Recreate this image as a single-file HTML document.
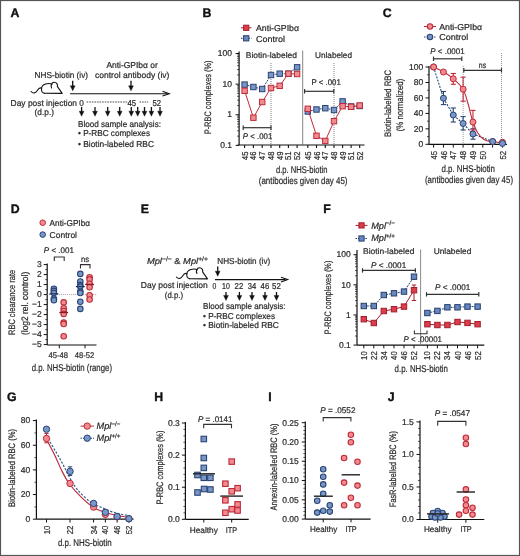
<!DOCTYPE html>
<html><head><meta charset="utf-8"><style>
html,body{margin:0;padding:0;background:#fff;}
svg{display:block;will-change:transform;}
text{font-family:"Liberation Sans", sans-serif;stroke:#2c2c2c;stroke-width:0.22px;text-rendering:geometricPrecision;}
</style></head><body>
<svg width="520" height="556" viewBox="0 0 520 556" font-family='"Liberation Sans", sans-serif' fill="#2c2c2c">
<rect x="0" y="0" width="520" height="556" fill="#fff"/>
<text x="10.50" y="16.80" font-size="12.3" font-weight="bold" fill="#111" style="stroke:#111;stroke-width:0.35px">A</text>
<text x="34.60" y="78.10" font-size="8.6" textLength="53.40" lengthAdjust="spacingAndGlyphs" >NHS-biotin (iv)</text>
<text x="106.40" y="68.10" font-size="8.6" textLength="51.40" lengthAdjust="spacingAndGlyphs" >Anti-GPIbα or</text>
<text x="95.00" y="77.80" font-size="8.6" textLength="74.40" lengthAdjust="spacingAndGlyphs" >control antibody (iv)</text>
<g transform="translate(0,0) scale(1.0)" fill="none" stroke="#111" stroke-width="1.1" stroke-linecap="round" stroke-linejoin="round">
<path d="M31.1,91.5 C33,93.8 35.8,93.2 37.3,90.6 C38.8,88 40,87.4 41.6,88.2"/>
<path d="M44.2,93.2 C40.5,92.4 40.2,85.6 45.5,84 C48,83.2 50.5,83.4 52,84.3"/>
<path d="M51.6,87.9 C50.4,85.8 51.5,82.3 54.2,82.3 C56.6,82.3 58,84.5 57.3,86.4 L62.2,93.4 L44.2,93.2"/>
</g>
<line x1="72.70" y1="80.80" x2="72.70" y2="86.80" stroke="#111" stroke-width="1.3"/>
<path d="M70.30,85.80 L72.70,90.80 L75.10,85.80 Z" fill="#111" stroke="#111" stroke-width="0.4" stroke-linejoin="round"/>
<line x1="131.00" y1="80.80" x2="131.00" y2="86.80" stroke="#111" stroke-width="1.3"/>
<path d="M128.60,85.80 L131.00,90.80 L133.40,85.80 Z" fill="#111" stroke="#111" stroke-width="0.4" stroke-linejoin="round"/>
<line x1="70.00" y1="93.70" x2="167.00" y2="93.70" stroke="#111" stroke-width="1.1"/>
<path d="M162.5,91.3 L169.3,93.7 L162.5,96.1" fill="none" stroke="#111" stroke-width="1.1"/>
<text x="10.60" y="105.80" font-size="8.6" textLength="66.40" lengthAdjust="spacingAndGlyphs" >Day post injection</text>
<text x="34.60" y="114.80" font-size="8.6" textLength="19.40" lengthAdjust="spacingAndGlyphs" >(d.p.)</text>
<text x="79.30" y="105.50" font-size="8.6" textLength="4.60" lengthAdjust="spacingAndGlyphs" >0</text>
<line x1="86.50" y1="102.00" x2="127.50" y2="102.00" stroke="#555" stroke-width="1.1" stroke-dasharray="1.7,0.9"/>
<text x="127.50" y="105.50" font-size="8.6" textLength="8.60" lengthAdjust="spacingAndGlyphs" >45</text>
<line x1="139.40" y1="102.00" x2="148.30" y2="102.00" stroke="#555" stroke-width="1.1" stroke-dasharray="1.7,0.9"/>
<text x="152.50" y="105.50" font-size="8.6" textLength="8.60" lengthAdjust="spacingAndGlyphs" >52</text>
<line x1="81.60" y1="107.00" x2="81.60" y2="112.20" stroke="#111" stroke-width="1.3"/>
<path d="M79.20,111.20 L81.60,116.20 L84.00,111.20 Z" fill="#111" stroke="#111" stroke-width="0.4" stroke-linejoin="round"/>
<line x1="95.00" y1="107.00" x2="95.00" y2="112.20" stroke="#111" stroke-width="1.3"/>
<path d="M92.60,111.20 L95.00,116.20 L97.40,111.20 Z" fill="#111" stroke="#111" stroke-width="0.4" stroke-linejoin="round"/>
<line x1="107.70" y1="107.00" x2="107.70" y2="112.20" stroke="#111" stroke-width="1.3"/>
<path d="M105.30,111.20 L107.70,116.20 L110.10,111.20 Z" fill="#111" stroke="#111" stroke-width="0.4" stroke-linejoin="round"/>
<line x1="119.70" y1="107.00" x2="119.70" y2="112.20" stroke="#111" stroke-width="1.3"/>
<path d="M117.30,111.20 L119.70,116.20 L122.10,111.20 Z" fill="#111" stroke="#111" stroke-width="0.4" stroke-linejoin="round"/>
<line x1="131.30" y1="107.00" x2="131.30" y2="112.20" stroke="#111" stroke-width="1.3"/>
<path d="M128.90,111.20 L131.30,116.20 L133.70,111.20 Z" fill="#111" stroke="#111" stroke-width="0.4" stroke-linejoin="round"/>
<line x1="137.70" y1="107.00" x2="137.70" y2="112.20" stroke="#111" stroke-width="1.3"/>
<path d="M135.30,111.20 L137.70,116.20 L140.10,111.20 Z" fill="#111" stroke="#111" stroke-width="0.4" stroke-linejoin="round"/>
<line x1="144.50" y1="107.00" x2="144.50" y2="112.20" stroke="#111" stroke-width="1.3"/>
<path d="M142.10,111.20 L144.50,116.20 L146.90,111.20 Z" fill="#111" stroke="#111" stroke-width="0.4" stroke-linejoin="round"/>
<line x1="151.40" y1="107.00" x2="151.40" y2="112.20" stroke="#111" stroke-width="1.3"/>
<path d="M149.00,111.20 L151.40,116.20 L153.80,111.20 Z" fill="#111" stroke="#111" stroke-width="0.4" stroke-linejoin="round"/>
<line x1="160.00" y1="107.00" x2="160.00" y2="112.20" stroke="#111" stroke-width="1.3"/>
<path d="M157.60,111.20 L160.00,116.20 L162.40,111.20 Z" fill="#111" stroke="#111" stroke-width="0.4" stroke-linejoin="round"/>
<text x="78.00" y="126.90" font-size="8.6" textLength="83.00" lengthAdjust="spacingAndGlyphs" >Blood sample analysis:</text>
<text x="78.00" y="136.40" font-size="8.6" textLength="72.00" lengthAdjust="spacingAndGlyphs" >• P-RBC complexes</text>
<text x="78.00" y="146.50" font-size="8.6" textLength="76.00" lengthAdjust="spacingAndGlyphs" >• Biotin-labeled RBC</text>
<text x="202.50" y="16.80" font-size="12.3" font-weight="bold" fill="#111" style="stroke:#111;stroke-width:0.35px">B</text>
<line x1="241.00" y1="27.80" x2="251.50" y2="27.80" stroke="#a31f2d" stroke-width="1"/>
<rect x="243.60" y="25.20" width="5.2" height="5.2" fill="#dc3d4b" stroke="#a31f2d" stroke-width="1"/>
<line x1="241.00" y1="38.30" x2="251.50" y2="38.30" stroke="#263f6c" stroke-width="1" stroke-dasharray="1.5,1"/>
<rect x="243.60" y="35.70" width="5.2" height="5.2" fill="#6787bf" stroke="#263f6c" stroke-width="1"/>
<text x="256.00" y="31.30" font-size="8.6" textLength="43.00" lengthAdjust="spacingAndGlyphs" >Anti-GPIbα</text>
<text x="256.00" y="41.80" font-size="8.6" textLength="29.00" lengthAdjust="spacingAndGlyphs" >Control</text>
<line x1="239.10" y1="51.50" x2="239.10" y2="145.00" stroke="#111" stroke-width="1.2"/>
<line x1="237.60" y1="145.00" x2="364.50" y2="145.00" stroke="#111" stroke-width="1.2"/>
<line x1="237.10" y1="136.18" x2="239.10" y2="136.18" stroke="#111" stroke-width="0.7"/>
<line x1="237.10" y1="130.79" x2="239.10" y2="130.79" stroke="#111" stroke-width="0.7"/>
<line x1="237.10" y1="126.96" x2="239.10" y2="126.96" stroke="#111" stroke-width="0.7"/>
<line x1="237.10" y1="123.99" x2="239.10" y2="123.99" stroke="#111" stroke-width="0.7"/>
<line x1="237.10" y1="121.57" x2="239.10" y2="121.57" stroke="#111" stroke-width="0.7"/>
<line x1="237.10" y1="119.51" x2="239.10" y2="119.51" stroke="#111" stroke-width="0.7"/>
<line x1="237.10" y1="117.74" x2="239.10" y2="117.74" stroke="#111" stroke-width="0.7"/>
<line x1="237.10" y1="116.17" x2="239.10" y2="116.17" stroke="#111" stroke-width="0.7"/>
<line x1="237.10" y1="105.55" x2="239.10" y2="105.55" stroke="#111" stroke-width="0.7"/>
<line x1="237.10" y1="100.16" x2="239.10" y2="100.16" stroke="#111" stroke-width="0.7"/>
<line x1="237.10" y1="96.33" x2="239.10" y2="96.33" stroke="#111" stroke-width="0.7"/>
<line x1="237.10" y1="93.36" x2="239.10" y2="93.36" stroke="#111" stroke-width="0.7"/>
<line x1="237.10" y1="90.94" x2="239.10" y2="90.94" stroke="#111" stroke-width="0.7"/>
<line x1="237.10" y1="88.88" x2="239.10" y2="88.88" stroke="#111" stroke-width="0.7"/>
<line x1="237.10" y1="87.11" x2="239.10" y2="87.11" stroke="#111" stroke-width="0.7"/>
<line x1="237.10" y1="85.54" x2="239.10" y2="85.54" stroke="#111" stroke-width="0.7"/>
<line x1="237.10" y1="74.92" x2="239.10" y2="74.92" stroke="#111" stroke-width="0.7"/>
<line x1="237.10" y1="69.53" x2="239.10" y2="69.53" stroke="#111" stroke-width="0.7"/>
<line x1="237.10" y1="65.70" x2="239.10" y2="65.70" stroke="#111" stroke-width="0.7"/>
<line x1="237.10" y1="62.73" x2="239.10" y2="62.73" stroke="#111" stroke-width="0.7"/>
<line x1="237.10" y1="60.31" x2="239.10" y2="60.31" stroke="#111" stroke-width="0.7"/>
<line x1="237.10" y1="58.25" x2="239.10" y2="58.25" stroke="#111" stroke-width="0.7"/>
<line x1="237.10" y1="56.48" x2="239.10" y2="56.48" stroke="#111" stroke-width="0.7"/>
<line x1="237.10" y1="54.91" x2="239.10" y2="54.91" stroke="#111" stroke-width="0.7"/>
<line x1="235.60" y1="53.51" x2="239.10" y2="53.51" stroke="#111" stroke-width="1"/>
<text x="232.00" y="56.21" font-size="8.5" text-anchor="end" >100</text>
<line x1="235.60" y1="84.14" x2="239.10" y2="84.14" stroke="#111" stroke-width="1"/>
<text x="232.00" y="86.84" font-size="8.5" text-anchor="end" >10</text>
<line x1="235.60" y1="114.77" x2="239.10" y2="114.77" stroke="#111" stroke-width="1"/>
<text x="232.00" y="117.47" font-size="8.5" text-anchor="end" >1</text>
<line x1="235.60" y1="145.40" x2="239.10" y2="145.40" stroke="#111" stroke-width="1"/>
<text x="232.00" y="148.10" font-size="8.5" text-anchor="end" >0.1</text>
<text x="211.00" y="97.30" font-size="9.4" text-anchor="middle" textLength="73.50" lengthAdjust="spacingAndGlyphs" transform="rotate(-90 211.00 97.30)" >P-RBC complexes (%)</text>
<line x1="244.60" y1="145.00" x2="244.60" y2="148.00" stroke="#111" stroke-width="1.1"/>
<text x="247.70" y="151.60" font-size="8.6" text-anchor="end" textLength="8.40" lengthAdjust="spacingAndGlyphs" transform="rotate(-90 247.70 151.60)" >45</text>
<line x1="253.40" y1="145.00" x2="253.40" y2="148.00" stroke="#111" stroke-width="1.1"/>
<text x="256.50" y="151.60" font-size="8.6" text-anchor="end" textLength="8.40" lengthAdjust="spacingAndGlyphs" transform="rotate(-90 256.50 151.60)" >46</text>
<line x1="262.20" y1="145.00" x2="262.20" y2="148.00" stroke="#111" stroke-width="1.1"/>
<text x="265.30" y="151.60" font-size="8.6" text-anchor="end" textLength="8.40" lengthAdjust="spacingAndGlyphs" transform="rotate(-90 265.30 151.60)" >47</text>
<line x1="271.00" y1="145.00" x2="271.00" y2="148.00" stroke="#111" stroke-width="1.1"/>
<text x="274.10" y="151.60" font-size="8.6" text-anchor="end" textLength="8.40" lengthAdjust="spacingAndGlyphs" transform="rotate(-90 274.10 151.60)" >48</text>
<line x1="279.70" y1="145.00" x2="279.70" y2="148.00" stroke="#111" stroke-width="1.1"/>
<text x="282.80" y="151.60" font-size="8.6" text-anchor="end" textLength="8.40" lengthAdjust="spacingAndGlyphs" transform="rotate(-90 282.80 151.60)" >49</text>
<line x1="288.40" y1="145.00" x2="288.40" y2="148.00" stroke="#111" stroke-width="1.1"/>
<text x="291.50" y="151.60" font-size="8.6" text-anchor="end" textLength="8.40" lengthAdjust="spacingAndGlyphs" transform="rotate(-90 291.50 151.60)" >51</text>
<line x1="297.10" y1="145.00" x2="297.10" y2="148.00" stroke="#111" stroke-width="1.1"/>
<text x="300.20" y="151.60" font-size="8.6" text-anchor="end" textLength="8.40" lengthAdjust="spacingAndGlyphs" transform="rotate(-90 300.20 151.60)" >52</text>
<line x1="307.80" y1="145.00" x2="307.80" y2="148.00" stroke="#111" stroke-width="1.1"/>
<text x="310.90" y="151.60" font-size="8.6" text-anchor="end" textLength="8.40" lengthAdjust="spacingAndGlyphs" transform="rotate(-90 310.90 151.60)" >45</text>
<line x1="316.50" y1="145.00" x2="316.50" y2="148.00" stroke="#111" stroke-width="1.1"/>
<text x="319.60" y="151.60" font-size="8.6" text-anchor="end" textLength="8.40" lengthAdjust="spacingAndGlyphs" transform="rotate(-90 319.60 151.60)" >46</text>
<line x1="325.30" y1="145.00" x2="325.30" y2="148.00" stroke="#111" stroke-width="1.1"/>
<text x="328.40" y="151.60" font-size="8.6" text-anchor="end" textLength="8.40" lengthAdjust="spacingAndGlyphs" transform="rotate(-90 328.40 151.60)" >47</text>
<line x1="334.00" y1="145.00" x2="334.00" y2="148.00" stroke="#111" stroke-width="1.1"/>
<text x="337.10" y="151.60" font-size="8.6" text-anchor="end" textLength="8.40" lengthAdjust="spacingAndGlyphs" transform="rotate(-90 337.10 151.60)" >48</text>
<line x1="342.60" y1="145.00" x2="342.60" y2="148.00" stroke="#111" stroke-width="1.1"/>
<text x="345.70" y="151.60" font-size="8.6" text-anchor="end" textLength="8.40" lengthAdjust="spacingAndGlyphs" transform="rotate(-90 345.70 151.60)" >49</text>
<line x1="351.10" y1="145.00" x2="351.10" y2="148.00" stroke="#111" stroke-width="1.1"/>
<text x="354.20" y="151.60" font-size="8.6" text-anchor="end" textLength="8.40" lengthAdjust="spacingAndGlyphs" transform="rotate(-90 354.20 151.60)" >51</text>
<line x1="359.70" y1="145.00" x2="359.70" y2="148.00" stroke="#111" stroke-width="1.1"/>
<text x="362.80" y="151.60" font-size="8.6" text-anchor="end" textLength="8.40" lengthAdjust="spacingAndGlyphs" transform="rotate(-90 362.80 151.60)" >52</text>
<line x1="302.70" y1="50.50" x2="302.70" y2="145.40" stroke="#777" stroke-width="0.9"/>
<text x="245.80" y="57.70" font-size="8.2" textLength="51.20" lengthAdjust="spacingAndGlyphs" >Biotin-labeled</text>
<text x="315.00" y="57.70" font-size="8.2" textLength="37.00" lengthAdjust="spacingAndGlyphs" >Unlabeled</text>
<line x1="271.00" y1="63.00" x2="271.00" y2="145.40" stroke="#666" stroke-width="0.8" stroke-dasharray="1,1"/>
<line x1="334.00" y1="63.00" x2="334.00" y2="145.40" stroke="#666" stroke-width="0.8" stroke-dasharray="1,1"/>
<line x1="243.20" y1="127.70" x2="271.00" y2="127.70" stroke="#333" stroke-width="1.2"/>
<line x1="243.20" y1="125.50" x2="243.20" y2="129.90" stroke="#333" stroke-width="1.2"/>
<line x1="271.00" y1="125.50" x2="271.00" y2="129.90" stroke="#333" stroke-width="1.2"/>
<text x="242.80" y="138.80" font-size="8.2" textLength="29.50" lengthAdjust="spacingAndGlyphs" ><tspan font-style="italic">P</tspan> &lt; .001</text>
<line x1="304.60" y1="91.30" x2="333.80" y2="91.30" stroke="#333" stroke-width="1.2"/>
<line x1="304.60" y1="89.10" x2="304.60" y2="93.50" stroke="#333" stroke-width="1.2"/>
<line x1="333.80" y1="89.10" x2="333.80" y2="93.50" stroke="#333" stroke-width="1.2"/>
<text x="311.50" y="85.20" font-size="8.2" textLength="29.30" lengthAdjust="spacingAndGlyphs" >P &lt; .001</text>
<polyline points="244.60,84.60 253.40,87.00 262.20,89.00 271.00,75.00 279.70,73.70 288.40,73.70 297.10,67.30" fill="none" stroke="#2a4474" stroke-width="1" stroke-dasharray="2,1"/>
<rect x="241.90" y="81.90" width="5.4" height="5.4" fill="#7896c8" stroke="#2a4474" stroke-width="1"/>
<rect x="250.70" y="84.30" width="5.4" height="5.4" fill="#7896c8" stroke="#2a4474" stroke-width="1"/>
<rect x="259.50" y="86.30" width="5.4" height="5.4" fill="#7896c8" stroke="#2a4474" stroke-width="1"/>
<rect x="268.30" y="72.30" width="5.4" height="5.4" fill="#7896c8" stroke="#2a4474" stroke-width="1"/>
<rect x="277.00" y="71.00" width="5.4" height="5.4" fill="#7896c8" stroke="#2a4474" stroke-width="1"/>
<rect x="285.70" y="71.00" width="5.4" height="5.4" fill="#7896c8" stroke="#2a4474" stroke-width="1"/>
<rect x="294.40" y="64.60" width="5.4" height="5.4" fill="#7896c8" stroke="#2a4474" stroke-width="1"/>
<polyline points="244.60,90.80 253.40,117.70 262.20,102.00 271.00,88.00 279.70,85.80 288.40,73.70 297.10,74.00" fill="none" stroke="#bd2b3a" stroke-width="1"/>
<rect x="241.90" y="88.10" width="5.4" height="5.4" fill="#f28a8e" stroke="#bd2b3a" stroke-width="1"/>
<rect x="250.70" y="115.00" width="5.4" height="5.4" fill="#f28a8e" stroke="#bd2b3a" stroke-width="1"/>
<rect x="259.50" y="99.30" width="5.4" height="5.4" fill="#f28a8e" stroke="#bd2b3a" stroke-width="1"/>
<rect x="268.30" y="85.30" width="5.4" height="5.4" fill="#f28a8e" stroke="#bd2b3a" stroke-width="1"/>
<rect x="277.00" y="83.10" width="5.4" height="5.4" fill="#f28a8e" stroke="#bd2b3a" stroke-width="1"/>
<rect x="285.70" y="71.00" width="5.4" height="5.4" fill="#f28a8e" stroke="#bd2b3a" stroke-width="1"/>
<rect x="294.40" y="71.30" width="5.4" height="5.4" fill="#f28a8e" stroke="#bd2b3a" stroke-width="1"/>
<polyline points="307.80,111.50 316.50,109.50 325.30,108.20 334.00,110.00 342.60,101.40 351.10,106.50 359.70,106.00" fill="none" stroke="#2a4474" stroke-width="1" stroke-dasharray="2,1"/>
<rect x="305.10" y="108.80" width="5.4" height="5.4" fill="#7896c8" stroke="#2a4474" stroke-width="1"/>
<rect x="313.80" y="106.80" width="5.4" height="5.4" fill="#7896c8" stroke="#2a4474" stroke-width="1"/>
<rect x="322.60" y="105.50" width="5.4" height="5.4" fill="#7896c8" stroke="#2a4474" stroke-width="1"/>
<rect x="331.30" y="107.30" width="5.4" height="5.4" fill="#7896c8" stroke="#2a4474" stroke-width="1"/>
<rect x="339.90" y="98.70" width="5.4" height="5.4" fill="#7896c8" stroke="#2a4474" stroke-width="1"/>
<rect x="348.40" y="103.80" width="5.4" height="5.4" fill="#7896c8" stroke="#2a4474" stroke-width="1"/>
<rect x="357.00" y="103.30" width="5.4" height="5.4" fill="#7896c8" stroke="#2a4474" stroke-width="1"/>
<polyline points="307.80,108.80 316.50,135.80 325.30,140.90 334.00,121.20 342.60,106.20 351.10,106.80 359.70,105.50" fill="none" stroke="#bd2b3a" stroke-width="1"/>
<rect x="305.10" y="106.10" width="5.4" height="5.4" fill="#f28a8e" stroke="#bd2b3a" stroke-width="1"/>
<rect x="313.80" y="133.10" width="5.4" height="5.4" fill="#f28a8e" stroke="#bd2b3a" stroke-width="1"/>
<rect x="322.60" y="138.20" width="5.4" height="5.4" fill="#f28a8e" stroke="#bd2b3a" stroke-width="1"/>
<rect x="331.30" y="118.50" width="5.4" height="5.4" fill="#f28a8e" stroke="#bd2b3a" stroke-width="1"/>
<rect x="339.90" y="103.50" width="5.4" height="5.4" fill="#f28a8e" stroke="#bd2b3a" stroke-width="1"/>
<rect x="348.40" y="104.10" width="5.4" height="5.4" fill="#f28a8e" stroke="#bd2b3a" stroke-width="1"/>
<rect x="357.00" y="102.80" width="5.4" height="5.4" fill="#f28a8e" stroke="#bd2b3a" stroke-width="1"/>
<text x="276.00" y="172.50" font-size="9.8" textLength="51.50" lengthAdjust="spacingAndGlyphs" >d.p. NHS-biotin</text>
<text x="258.80" y="183.80" font-size="9.8" textLength="88.70" lengthAdjust="spacingAndGlyphs" >(antibodies given day 45)</text>
<text x="382.80" y="16.80" font-size="12.3" font-weight="bold" fill="#111" style="stroke:#111;stroke-width:0.35px">C</text>
<line x1="424.00" y1="26.50" x2="436.00" y2="26.50" stroke="#bd2b3a" stroke-width="1"/>
<circle cx="430.00" cy="26.50" r="2.7" fill="#f28a8e" stroke="#bd2b3a" stroke-width="1.1"/>
<line x1="424.00" y1="37.00" x2="436.00" y2="37.00" stroke="#2a4474" stroke-width="1" stroke-dasharray="1.5,1"/>
<circle cx="430.00" cy="37.00" r="2.7" fill="#7896c8" stroke="#2a4474" stroke-width="1.1"/>
<text x="439.20" y="29.70" font-size="8.6" textLength="43.00" lengthAdjust="spacingAndGlyphs" >Anti-GPIbα</text>
<text x="439.20" y="39.90" font-size="8.6" textLength="29.00" lengthAdjust="spacingAndGlyphs" >Control</text>
<line x1="429.00" y1="66.00" x2="429.00" y2="144.30" stroke="#111" stroke-width="1.2"/>
<line x1="429.00" y1="144.30" x2="507.00" y2="144.30" stroke="#111" stroke-width="1.2"/>
<line x1="425.50" y1="144.30" x2="429.00" y2="144.30" stroke="#111" stroke-width="1"/>
<text x="423.20" y="147.10" font-size="8.5" text-anchor="end" >0</text>
<line x1="427.00" y1="136.58" x2="429.00" y2="136.58" stroke="#111" stroke-width="0.7"/>
<line x1="425.50" y1="128.85" x2="429.00" y2="128.85" stroke="#111" stroke-width="1"/>
<text x="423.20" y="131.65" font-size="8.5" text-anchor="end" >20</text>
<line x1="427.00" y1="121.13" x2="429.00" y2="121.13" stroke="#111" stroke-width="0.7"/>
<line x1="425.50" y1="113.40" x2="429.00" y2="113.40" stroke="#111" stroke-width="1"/>
<text x="423.20" y="116.20" font-size="8.5" text-anchor="end" >40</text>
<line x1="427.00" y1="105.68" x2="429.00" y2="105.68" stroke="#111" stroke-width="0.7"/>
<line x1="425.50" y1="97.95" x2="429.00" y2="97.95" stroke="#111" stroke-width="1"/>
<text x="423.20" y="100.75" font-size="8.5" text-anchor="end" >60</text>
<line x1="427.00" y1="90.23" x2="429.00" y2="90.23" stroke="#111" stroke-width="0.7"/>
<line x1="425.50" y1="82.50" x2="429.00" y2="82.50" stroke="#111" stroke-width="1"/>
<text x="423.20" y="85.30" font-size="8.5" text-anchor="end" >80</text>
<line x1="427.00" y1="74.78" x2="429.00" y2="74.78" stroke="#111" stroke-width="0.7"/>
<line x1="425.50" y1="67.05" x2="429.00" y2="67.05" stroke="#111" stroke-width="1"/>
<text x="423.20" y="69.85" font-size="8.5" text-anchor="end" >100</text>
<text x="391.00" y="103.40" font-size="9.4" text-anchor="middle" textLength="67.00" lengthAdjust="spacingAndGlyphs" transform="rotate(-90 391.00 103.40)" >Biotin-labelled RBC</text>
<text x="402.80" y="105.00" font-size="9.4" text-anchor="middle" textLength="52.50" lengthAdjust="spacingAndGlyphs" transform="rotate(-90 402.80 105.00)" >(% normalized)</text>
<line x1="433.60" y1="144.30" x2="433.60" y2="147.60" stroke="#111" stroke-width="1"/>
<text x="436.70" y="150.90" font-size="8.6" text-anchor="end" textLength="8.60" lengthAdjust="spacingAndGlyphs" transform="rotate(-90 436.70 150.90)" >45</text>
<line x1="443.44" y1="144.30" x2="443.44" y2="147.60" stroke="#111" stroke-width="1"/>
<text x="446.54" y="150.90" font-size="8.6" text-anchor="end" textLength="8.60" lengthAdjust="spacingAndGlyphs" transform="rotate(-90 446.54 150.90)" >46</text>
<line x1="453.28" y1="144.30" x2="453.28" y2="147.60" stroke="#111" stroke-width="1"/>
<text x="456.38" y="150.90" font-size="8.6" text-anchor="end" textLength="8.60" lengthAdjust="spacingAndGlyphs" transform="rotate(-90 456.38 150.90)" >47</text>
<line x1="463.12" y1="144.30" x2="463.12" y2="147.60" stroke="#111" stroke-width="1"/>
<text x="466.22" y="150.90" font-size="8.6" text-anchor="end" textLength="8.60" lengthAdjust="spacingAndGlyphs" transform="rotate(-90 466.22 150.90)" >48</text>
<line x1="472.96" y1="144.30" x2="472.96" y2="147.60" stroke="#111" stroke-width="1"/>
<text x="476.06" y="150.90" font-size="8.6" text-anchor="end" textLength="8.60" lengthAdjust="spacingAndGlyphs" transform="rotate(-90 476.06 150.90)" >49</text>
<line x1="482.80" y1="144.30" x2="482.80" y2="147.60" stroke="#111" stroke-width="1"/>
<text x="485.90" y="150.90" font-size="8.6" text-anchor="end" textLength="8.60" lengthAdjust="spacingAndGlyphs" transform="rotate(-90 485.90 150.90)" >50</text>
<line x1="492.64" y1="144.30" x2="492.64" y2="147.60" stroke="#111" stroke-width="1"/>
<line x1="502.48" y1="144.30" x2="502.48" y2="147.60" stroke="#111" stroke-width="1"/>
<text x="505.58" y="150.90" font-size="8.6" text-anchor="end" textLength="8.60" lengthAdjust="spacingAndGlyphs" transform="rotate(-90 505.58 150.90)" >52</text>
<line x1="463.12" y1="66.00" x2="463.12" y2="144.30" stroke="#777" stroke-width="0.8" stroke-dasharray="1,1"/>
<line x1="501.50" y1="53.00" x2="501.50" y2="144.30" stroke="#777" stroke-width="0.8" stroke-dasharray="1,1"/>
<line x1="433.50" y1="58.80" x2="461.80" y2="58.80" stroke="#333" stroke-width="1.2"/>
<line x1="433.50" y1="56.60" x2="433.50" y2="61.00" stroke="#333" stroke-width="1.2"/>
<line x1="461.80" y1="56.60" x2="461.80" y2="61.00" stroke="#333" stroke-width="1.2"/>
<text x="430.30" y="54.20" font-size="8.2" textLength="34.30" lengthAdjust="spacingAndGlyphs" ><tspan font-style="italic">P</tspan> &lt; .0001</text>
<line x1="463.80" y1="70.30" x2="501.50" y2="70.30" stroke="#333" stroke-width="1.2"/>
<line x1="463.80" y1="68.10" x2="463.80" y2="72.50" stroke="#333" stroke-width="1.2"/>
<line x1="501.50" y1="68.10" x2="501.50" y2="72.50" stroke="#333" stroke-width="1.2"/>
<text x="478.80" y="67.70" font-size="8.2" textLength="7.40" lengthAdjust="spacingAndGlyphs" >ns</text>
<polyline points="433.60,67.00 443.44,98.20 453.28,115.00 463.12,123.50 472.96,134.00 492.64,141.50 502.48,143.40" fill="none" stroke="#2a4474" stroke-width="1.1" stroke-dasharray="2,1.3"/>
<line x1="443.44" y1="91.50" x2="443.44" y2="104.60" stroke="#2a4474" stroke-width="1.1"/>
<line x1="440.84" y1="91.50" x2="446.04" y2="91.50" stroke="#2a4474" stroke-width="1.1"/>
<line x1="440.84" y1="104.60" x2="446.04" y2="104.60" stroke="#2a4474" stroke-width="1.1"/>
<line x1="453.28" y1="108.00" x2="453.28" y2="122.00" stroke="#2a4474" stroke-width="1.1"/>
<line x1="450.68" y1="108.00" x2="455.88" y2="108.00" stroke="#2a4474" stroke-width="1.1"/>
<line x1="450.68" y1="122.00" x2="455.88" y2="122.00" stroke="#2a4474" stroke-width="1.1"/>
<line x1="463.12" y1="116.60" x2="463.12" y2="130.00" stroke="#2a4474" stroke-width="1.1"/>
<line x1="460.52" y1="116.60" x2="465.72" y2="116.60" stroke="#2a4474" stroke-width="1.1"/>
<line x1="460.52" y1="130.00" x2="465.72" y2="130.00" stroke="#2a4474" stroke-width="1.1"/>
<line x1="472.96" y1="128.80" x2="472.96" y2="139.20" stroke="#2a4474" stroke-width="1.1"/>
<line x1="470.36" y1="128.80" x2="475.56" y2="128.80" stroke="#2a4474" stroke-width="1.1"/>
<line x1="470.36" y1="139.20" x2="475.56" y2="139.20" stroke="#2a4474" stroke-width="1.1"/>
<circle cx="433.60" cy="67.00" r="3.0" fill="#7896c8" stroke="#2a4474" stroke-width="1"/>
<circle cx="443.44" cy="98.20" r="3.0" fill="#7896c8" stroke="#2a4474" stroke-width="1"/>
<circle cx="453.28" cy="115.00" r="3.0" fill="#7896c8" stroke="#2a4474" stroke-width="1"/>
<circle cx="463.12" cy="123.50" r="3.0" fill="#7896c8" stroke="#2a4474" stroke-width="1"/>
<circle cx="472.96" cy="134.00" r="3.0" fill="#7896c8" stroke="#2a4474" stroke-width="1"/>
<path d="M433.80,67.00 C435.47,67.83 440.53,70.03 443.80,72.00 C447.07,73.97 450.20,75.93 453.40,78.80 C456.60,81.67 460.57,85.08 463.00,89.20 C465.43,93.32 466.42,98.28 468.00,103.50 C469.58,108.72 470.92,115.67 472.50,120.50 C474.08,125.33 475.58,129.33 477.50,132.50 C479.42,135.67 481.58,137.95 484.00,139.50 C486.42,141.05 488.83,141.28 492.00,141.80 C495.17,142.32 501.17,142.47 503.00,142.60" fill="none" stroke="#bd2b3a" stroke-width="1.1"/>
<line x1="453.28" y1="73.50" x2="453.28" y2="84.30" stroke="#bd2b3a" stroke-width="1.1"/>
<line x1="450.68" y1="73.50" x2="455.88" y2="73.50" stroke="#bd2b3a" stroke-width="1.1"/>
<line x1="450.68" y1="84.30" x2="455.88" y2="84.30" stroke="#bd2b3a" stroke-width="1.1"/>
<line x1="463.12" y1="77.20" x2="463.12" y2="101.20" stroke="#bd2b3a" stroke-width="1.1"/>
<line x1="460.52" y1="77.20" x2="465.72" y2="77.20" stroke="#bd2b3a" stroke-width="1.1"/>
<line x1="460.52" y1="101.20" x2="465.72" y2="101.20" stroke="#bd2b3a" stroke-width="1.1"/>
<line x1="472.96" y1="110.40" x2="472.96" y2="130.00" stroke="#bd2b3a" stroke-width="1.1"/>
<line x1="470.36" y1="110.40" x2="475.56" y2="110.40" stroke="#bd2b3a" stroke-width="1.1"/>
<line x1="470.36" y1="130.00" x2="475.56" y2="130.00" stroke="#bd2b3a" stroke-width="1.1"/>
<circle cx="433.60" cy="67.00" r="3.0" fill="#f28a8e" stroke="#bd2b3a" stroke-width="1"/>
<circle cx="443.44" cy="72.00" r="3.0" fill="#f28a8e" stroke="#bd2b3a" stroke-width="1"/>
<circle cx="453.28" cy="78.80" r="3.0" fill="#f28a8e" stroke="#bd2b3a" stroke-width="1"/>
<circle cx="463.12" cy="89.20" r="3.0" fill="#f28a8e" stroke="#bd2b3a" stroke-width="1"/>
<circle cx="472.96" cy="122.00" r="3.0" fill="#f28a8e" stroke="#bd2b3a" stroke-width="1"/>
<circle cx="492.64" cy="141.50" r="3.0" fill="#f28a8e" stroke="#bd2b3a" stroke-width="1"/>
<circle cx="502.48" cy="142.20" r="3.0" fill="#f28a8e" stroke="#bd2b3a" stroke-width="1"/>
<circle cx="492.64" cy="141.50" r="3.0" fill="#7896c8" stroke="#2a4474" stroke-width="1"/>
<circle cx="502.48" cy="143.40" r="3.0" fill="#7896c8" stroke="#2a4474" stroke-width="1"/>
<text x="441.50" y="171.50" font-size="9.8" textLength="53.50" lengthAdjust="spacingAndGlyphs" >d.p. NHS-biotin</text>
<text x="425.00" y="182.60" font-size="9.8" textLength="88.00" lengthAdjust="spacingAndGlyphs" >(antibodies given day 45)</text>
<text x="10.80" y="213.00" font-size="12.3" font-weight="bold" fill="#111" style="stroke:#111;stroke-width:0.35px">D</text>
<circle cx="42.70" cy="222.70" r="2.8" fill="#f28a8e" stroke="#bd2b3a" stroke-width="1"/>
<circle cx="42.70" cy="234.60" r="2.8" fill="#7896c8" stroke="#2a4474" stroke-width="1"/>
<text x="49.60" y="226.00" font-size="8.6" textLength="40.40" lengthAdjust="spacingAndGlyphs" >Anti-GPIbα</text>
<text x="49.60" y="237.50" font-size="8.6" textLength="27.40" lengthAdjust="spacingAndGlyphs" >Control</text>
<text x="43.80" y="252.90" font-size="8.2" textLength="30.20" lengthAdjust="spacingAndGlyphs" ><tspan font-style="italic">P</tspan> &lt; .001</text>
<path d="M54.30,261.00 L54.30,257.00 L64.20,257.00 L64.20,261.00" fill="none" stroke="#333" stroke-width="1.1"/>
<text x="81.00" y="261.50" font-size="8.2" textLength="8.20" lengthAdjust="spacingAndGlyphs" >ns</text>
<path d="M80.50,268.50 L80.50,264.60 L90.00,264.60 L90.00,268.50" fill="none" stroke="#333" stroke-width="1.1"/>
<line x1="47.20" y1="263.50" x2="47.20" y2="345.00" stroke="#111" stroke-width="1.2"/>
<line x1="47.20" y1="345.00" x2="96.50" y2="345.00" stroke="#111" stroke-width="1.2"/>
<line x1="43.70" y1="344.60" x2="47.20" y2="344.60" stroke="#111" stroke-width="1"/>
<text x="41.80" y="347.40" font-size="8.5" text-anchor="end" >−5</text>
<line x1="45.20" y1="339.60" x2="47.20" y2="339.60" stroke="#111" stroke-width="0.7"/>
<line x1="43.70" y1="334.60" x2="47.20" y2="334.60" stroke="#111" stroke-width="1"/>
<text x="41.80" y="337.40" font-size="8.5" text-anchor="end" >−4</text>
<line x1="45.20" y1="329.60" x2="47.20" y2="329.60" stroke="#111" stroke-width="0.7"/>
<line x1="43.70" y1="324.60" x2="47.20" y2="324.60" stroke="#111" stroke-width="1"/>
<text x="41.80" y="327.40" font-size="8.5" text-anchor="end" >−3</text>
<line x1="45.20" y1="319.60" x2="47.20" y2="319.60" stroke="#111" stroke-width="0.7"/>
<line x1="43.70" y1="314.60" x2="47.20" y2="314.60" stroke="#111" stroke-width="1"/>
<text x="41.80" y="317.40" font-size="8.5" text-anchor="end" >−2</text>
<line x1="45.20" y1="309.60" x2="47.20" y2="309.60" stroke="#111" stroke-width="0.7"/>
<line x1="43.70" y1="304.60" x2="47.20" y2="304.60" stroke="#111" stroke-width="1"/>
<text x="41.80" y="307.40" font-size="8.5" text-anchor="end" >−1</text>
<line x1="45.20" y1="299.60" x2="47.20" y2="299.60" stroke="#111" stroke-width="0.7"/>
<line x1="43.70" y1="294.60" x2="47.20" y2="294.60" stroke="#111" stroke-width="1"/>
<text x="41.80" y="297.40" font-size="8.5" text-anchor="end" >0</text>
<line x1="45.20" y1="289.60" x2="47.20" y2="289.60" stroke="#111" stroke-width="0.7"/>
<line x1="43.70" y1="284.60" x2="47.20" y2="284.60" stroke="#111" stroke-width="1"/>
<text x="41.80" y="287.40" font-size="8.5" text-anchor="end" >1</text>
<line x1="45.20" y1="279.60" x2="47.20" y2="279.60" stroke="#111" stroke-width="0.7"/>
<line x1="43.70" y1="274.60" x2="47.20" y2="274.60" stroke="#111" stroke-width="1"/>
<text x="41.80" y="277.40" font-size="8.5" text-anchor="end" >2</text>
<line x1="45.20" y1="269.60" x2="47.20" y2="269.60" stroke="#111" stroke-width="0.7"/>
<line x1="43.70" y1="264.60" x2="47.20" y2="264.60" stroke="#111" stroke-width="1"/>
<text x="41.80" y="267.40" font-size="8.5" text-anchor="end" >3</text>
<text x="15.50" y="302.40" font-size="9.4" text-anchor="middle" textLength="65.20" lengthAdjust="spacingAndGlyphs" transform="rotate(-90 15.50 302.40)" >RBC clearance rate</text>
<text x="27.60" y="303.40" font-size="9.4" text-anchor="middle" textLength="63.30" lengthAdjust="spacingAndGlyphs" transform="rotate(-90 27.60 303.40)" >(log2 rel. control)</text>
<line x1="47.20" y1="294.60" x2="96.50" y2="294.60" stroke="#8a7a8a" stroke-width="0.8" stroke-dasharray="1,1"/>
<line x1="59.30" y1="345.00" x2="59.30" y2="348.30" stroke="#111" stroke-width="1"/>
<line x1="85.00" y1="345.00" x2="85.00" y2="348.30" stroke="#111" stroke-width="1"/>
<text x="58.20" y="358.40" font-size="8.2" text-anchor="middle" textLength="19.50" lengthAdjust="spacingAndGlyphs" >45-48</text>
<text x="84.60" y="358.40" font-size="8.2" text-anchor="middle" textLength="19.50" lengthAdjust="spacingAndGlyphs" >48-52</text>
<text x="31.70" y="371.00" font-size="9.8" textLength="80.30" lengthAdjust="spacingAndGlyphs" >d.p. NHS-biotin (range)</text>
<circle cx="53.90" cy="288.70" r="2.75" fill="#7896c8" stroke="#2a4474" stroke-width="1.1"/>
<circle cx="53.90" cy="290.90" r="2.75" fill="#7896c8" stroke="#2a4474" stroke-width="1.1"/>
<circle cx="53.90" cy="293.00" r="2.75" fill="#7896c8" stroke="#2a4474" stroke-width="1.1"/>
<circle cx="53.90" cy="298.80" r="2.75" fill="#7896c8" stroke="#2a4474" stroke-width="1.1"/>
<circle cx="53.90" cy="300.30" r="2.75" fill="#7896c8" stroke="#2a4474" stroke-width="1.1"/>
<circle cx="63.70" cy="302.40" r="2.75" fill="#f28a8e" stroke="#bd2b3a" stroke-width="1.1"/>
<circle cx="63.70" cy="308.20" r="2.75" fill="#f28a8e" stroke="#bd2b3a" stroke-width="1.1"/>
<circle cx="63.70" cy="311.00" r="2.75" fill="#f28a8e" stroke="#bd2b3a" stroke-width="1.1"/>
<circle cx="63.70" cy="313.90" r="2.75" fill="#f28a8e" stroke="#bd2b3a" stroke-width="1.1"/>
<circle cx="63.70" cy="322.60" r="2.75" fill="#f28a8e" stroke="#bd2b3a" stroke-width="1.1"/>
<circle cx="63.70" cy="324.00" r="2.75" fill="#f28a8e" stroke="#bd2b3a" stroke-width="1.1"/>
<circle cx="63.70" cy="336.20" r="2.75" fill="#f28a8e" stroke="#bd2b3a" stroke-width="1.1"/>
<circle cx="80.30" cy="273.90" r="2.75" fill="#7896c8" stroke="#2a4474" stroke-width="1.1"/>
<circle cx="80.30" cy="281.50" r="2.75" fill="#7896c8" stroke="#2a4474" stroke-width="1.1"/>
<circle cx="80.30" cy="285.10" r="2.75" fill="#7896c8" stroke="#2a4474" stroke-width="1.1"/>
<circle cx="80.30" cy="286.60" r="2.75" fill="#7896c8" stroke="#2a4474" stroke-width="1.1"/>
<circle cx="80.30" cy="291.60" r="2.75" fill="#7896c8" stroke="#2a4474" stroke-width="1.1"/>
<circle cx="80.30" cy="293.00" r="2.75" fill="#7896c8" stroke="#2a4474" stroke-width="1.1"/>
<circle cx="80.30" cy="301.70" r="2.75" fill="#7896c8" stroke="#2a4474" stroke-width="1.1"/>
<circle cx="80.30" cy="308.90" r="2.75" fill="#7896c8" stroke="#2a4474" stroke-width="1.1"/>
<circle cx="89.60" cy="277.20" r="2.75" fill="#f28a8e" stroke="#bd2b3a" stroke-width="1.1"/>
<circle cx="89.60" cy="279.40" r="2.75" fill="#f28a8e" stroke="#bd2b3a" stroke-width="1.1"/>
<circle cx="89.60" cy="283.70" r="2.75" fill="#f28a8e" stroke="#bd2b3a" stroke-width="1.1"/>
<circle cx="89.60" cy="287.30" r="2.75" fill="#f28a8e" stroke="#bd2b3a" stroke-width="1.1"/>
<circle cx="89.60" cy="295.20" r="2.75" fill="#f28a8e" stroke="#bd2b3a" stroke-width="1.1"/>
<circle cx="89.60" cy="299.50" r="2.75" fill="#f28a8e" stroke="#bd2b3a" stroke-width="1.1"/>
<line x1="49.50" y1="293.80" x2="58.30" y2="293.80" stroke="#1d3560" stroke-width="1.3"/>
<line x1="59.30" y1="312.50" x2="68.10" y2="312.50" stroke="#8a1a26" stroke-width="1.3"/>
<line x1="75.90" y1="286.60" x2="84.70" y2="286.60" stroke="#1d3560" stroke-width="1.3"/>
<line x1="85.20" y1="284.40" x2="94.00" y2="284.40" stroke="#8a1a26" stroke-width="1.3"/>
<text x="140.80" y="212.50" font-size="12.3" font-weight="bold" fill="#111" style="stroke:#111;stroke-width:0.35px">E</text>
<text x="146.90" y="263.80" font-size="8.6" textLength="61.00" lengthAdjust="spacingAndGlyphs" ><tspan font-style="italic">Mpl</tspan><tspan font-size="6.2" dy="-3.2">−/−</tspan><tspan dy="3.2"> &amp; </tspan><tspan font-style="italic">Mpl</tspan><tspan font-size="6.2" dy="-3.2">+/+</tspan></text>
<g transform="translate(145.3,185.5) scale(1.0)" fill="none" stroke="#111" stroke-width="1.1" stroke-linecap="round" stroke-linejoin="round">
<path d="M31.1,91.5 C33,93.8 35.8,93.2 37.3,90.6 C38.8,88 40,87.4 41.6,88.2"/>
<path d="M44.2,93.2 C40.5,92.4 40.2,85.6 45.5,84 C48,83.2 50.5,83.4 52,84.3"/>
<path d="M51.6,87.9 C50.4,85.8 51.5,82.3 54.2,82.3 C56.6,82.3 58,84.5 57.3,86.4 L62.2,93.4 L44.2,93.2"/>
</g>
<text x="217.30" y="263.70" font-size="8.6" textLength="52.90" lengthAdjust="spacingAndGlyphs" >NHS-biotin (iv)</text>
<line x1="217.70" y1="266.50" x2="217.70" y2="272.20" stroke="#111" stroke-width="1.3"/>
<path d="M215.30,271.20 L217.70,276.20 L220.10,271.20 Z" fill="#111" stroke="#111" stroke-width="0.4" stroke-linejoin="round"/>
<line x1="215.00" y1="279.60" x2="285.50" y2="279.60" stroke="#111" stroke-width="1.1"/>
<path d="M281,277.2 L287.7,279.6 L281,282" fill="none" stroke="#111" stroke-width="1.1"/>
<text x="140.80" y="288.00" font-size="8.6" textLength="66.90" lengthAdjust="spacingAndGlyphs" >Day post injection</text>
<text x="164.80" y="297.70" font-size="8.6" textLength="18.20" lengthAdjust="spacingAndGlyphs" >(d.p.)</text>
<text x="212.50" y="288.70" font-size="8.6" textLength="3.80" lengthAdjust="spacingAndGlyphs" >0</text>
<text x="222.00" y="288.70" font-size="8.6" textLength="7.80" lengthAdjust="spacingAndGlyphs" >10</text>
<text x="234.60" y="288.70" font-size="8.6" textLength="8.70" lengthAdjust="spacingAndGlyphs" >22</text>
<text x="247.70" y="288.70" font-size="8.6" textLength="8.50" lengthAdjust="spacingAndGlyphs" >34</text>
<text x="260.60" y="288.70" font-size="8.6" textLength="8.60" lengthAdjust="spacingAndGlyphs" >46</text>
<text x="272.00" y="288.70" font-size="8.6" textLength="8.80" lengthAdjust="spacingAndGlyphs" >52</text>
<line x1="226.00" y1="292.00" x2="226.00" y2="296.40" stroke="#111" stroke-width="1.3"/>
<path d="M223.60,295.40 L226.00,300.40 L228.40,295.40 Z" fill="#111" stroke="#111" stroke-width="0.4" stroke-linejoin="round"/>
<line x1="239.40" y1="292.00" x2="239.40" y2="296.40" stroke="#111" stroke-width="1.3"/>
<path d="M237.00,295.40 L239.40,300.40 L241.80,295.40 Z" fill="#111" stroke="#111" stroke-width="0.4" stroke-linejoin="round"/>
<line x1="252.00" y1="292.00" x2="252.00" y2="296.40" stroke="#111" stroke-width="1.3"/>
<path d="M249.60,295.40 L252.00,300.40 L254.40,295.40 Z" fill="#111" stroke="#111" stroke-width="0.4" stroke-linejoin="round"/>
<line x1="265.00" y1="292.00" x2="265.00" y2="296.40" stroke="#111" stroke-width="1.3"/>
<path d="M262.60,295.40 L265.00,300.40 L267.40,295.40 Z" fill="#111" stroke="#111" stroke-width="0.4" stroke-linejoin="round"/>
<line x1="276.50" y1="292.00" x2="276.50" y2="296.40" stroke="#111" stroke-width="1.3"/>
<path d="M274.10,295.40 L276.50,300.40 L278.90,295.40 Z" fill="#111" stroke="#111" stroke-width="0.4" stroke-linejoin="round"/>
<text x="203.00" y="308.50" font-size="8.6" textLength="82.60" lengthAdjust="spacingAndGlyphs" >Blood sample analysis:</text>
<text x="203.00" y="318.50" font-size="8.6" textLength="72.00" lengthAdjust="spacingAndGlyphs" >• P-RBC complexes</text>
<text x="203.00" y="328.00" font-size="8.6" textLength="75.80" lengthAdjust="spacingAndGlyphs" >• Biotin-labeled RBC</text>
<text x="323.30" y="212.50" font-size="12.3" font-weight="bold" fill="#111" style="stroke:#111;stroke-width:0.35px">F</text>
<line x1="355.50" y1="225.40" x2="367.50" y2="225.40" stroke="#a31f2d" stroke-width="1"/>
<rect x="358.90" y="222.80" width="5.2" height="5.2" fill="#dc3d4b" stroke="#a31f2d" stroke-width="1"/>
<line x1="355.50" y1="238.50" x2="367.50" y2="238.50" stroke="#263f6c" stroke-width="1" stroke-dasharray="1.5,1"/>
<rect x="358.90" y="235.90" width="5.2" height="5.2" fill="#6787bf" stroke="#263f6c" stroke-width="1"/>
<text x="371.20" y="228.50" font-size="9.2" ><tspan font-style="italic">Mpl</tspan><tspan font-size="6.2" dy="-3.2">−/−</tspan></text>
<text x="371.20" y="241.20" font-size="9.2" ><tspan font-style="italic">Mpl</tspan><tspan font-size="6.2" dy="-3.2">+/+</tspan></text>
<line x1="357.00" y1="250.00" x2="357.00" y2="345.10" stroke="#111" stroke-width="1.2"/>
<line x1="357.00" y1="345.10" x2="484.30" y2="345.10" stroke="#111" stroke-width="1.2"/>
<line x1="355.00" y1="336.03" x2="357.00" y2="336.03" stroke="#111" stroke-width="0.7"/>
<line x1="355.00" y1="330.72" x2="357.00" y2="330.72" stroke="#111" stroke-width="0.7"/>
<line x1="355.00" y1="326.96" x2="357.00" y2="326.96" stroke="#111" stroke-width="0.7"/>
<line x1="355.00" y1="324.04" x2="357.00" y2="324.04" stroke="#111" stroke-width="0.7"/>
<line x1="355.00" y1="321.65" x2="357.00" y2="321.65" stroke="#111" stroke-width="0.7"/>
<line x1="355.00" y1="319.64" x2="357.00" y2="319.64" stroke="#111" stroke-width="0.7"/>
<line x1="355.00" y1="317.89" x2="357.00" y2="317.89" stroke="#111" stroke-width="0.7"/>
<line x1="355.00" y1="316.35" x2="357.00" y2="316.35" stroke="#111" stroke-width="0.7"/>
<line x1="355.00" y1="305.90" x2="357.00" y2="305.90" stroke="#111" stroke-width="0.7"/>
<line x1="355.00" y1="300.59" x2="357.00" y2="300.59" stroke="#111" stroke-width="0.7"/>
<line x1="355.00" y1="296.83" x2="357.00" y2="296.83" stroke="#111" stroke-width="0.7"/>
<line x1="355.00" y1="293.91" x2="357.00" y2="293.91" stroke="#111" stroke-width="0.7"/>
<line x1="355.00" y1="291.52" x2="357.00" y2="291.52" stroke="#111" stroke-width="0.7"/>
<line x1="355.00" y1="289.51" x2="357.00" y2="289.51" stroke="#111" stroke-width="0.7"/>
<line x1="355.00" y1="287.76" x2="357.00" y2="287.76" stroke="#111" stroke-width="0.7"/>
<line x1="355.00" y1="286.22" x2="357.00" y2="286.22" stroke="#111" stroke-width="0.7"/>
<line x1="355.00" y1="275.77" x2="357.00" y2="275.77" stroke="#111" stroke-width="0.7"/>
<line x1="355.00" y1="270.46" x2="357.00" y2="270.46" stroke="#111" stroke-width="0.7"/>
<line x1="355.00" y1="266.70" x2="357.00" y2="266.70" stroke="#111" stroke-width="0.7"/>
<line x1="355.00" y1="263.78" x2="357.00" y2="263.78" stroke="#111" stroke-width="0.7"/>
<line x1="355.00" y1="261.39" x2="357.00" y2="261.39" stroke="#111" stroke-width="0.7"/>
<line x1="355.00" y1="259.38" x2="357.00" y2="259.38" stroke="#111" stroke-width="0.7"/>
<line x1="355.00" y1="257.63" x2="357.00" y2="257.63" stroke="#111" stroke-width="0.7"/>
<line x1="355.00" y1="256.09" x2="357.00" y2="256.09" stroke="#111" stroke-width="0.7"/>
<line x1="353.50" y1="254.71" x2="357.00" y2="254.71" stroke="#111" stroke-width="1"/>
<text x="350.80" y="257.41" font-size="8.5" text-anchor="end" >100</text>
<line x1="353.50" y1="284.84" x2="357.00" y2="284.84" stroke="#111" stroke-width="1"/>
<text x="350.80" y="287.54" font-size="8.5" text-anchor="end" >10</text>
<line x1="353.50" y1="314.97" x2="357.00" y2="314.97" stroke="#111" stroke-width="1"/>
<text x="350.80" y="317.67" font-size="8.5" text-anchor="end" >1</text>
<line x1="353.50" y1="345.10" x2="357.00" y2="345.10" stroke="#111" stroke-width="1"/>
<text x="350.80" y="347.80" font-size="8.5" text-anchor="end" >0.1</text>
<text x="331.20" y="297.40" font-size="9.4" text-anchor="middle" textLength="73.50" lengthAdjust="spacingAndGlyphs" transform="rotate(-90 331.20 297.40)" >P-RBC complexes (%)</text>
<line x1="363.80" y1="345.10" x2="363.80" y2="348.30" stroke="#111" stroke-width="1"/>
<text x="366.90" y="351.30" font-size="8.6" text-anchor="end" textLength="8.60" lengthAdjust="spacingAndGlyphs" transform="rotate(-90 366.90 351.30)" >10</text>
<line x1="373.80" y1="345.10" x2="373.80" y2="348.30" stroke="#111" stroke-width="1"/>
<text x="376.90" y="351.30" font-size="8.6" text-anchor="end" textLength="8.60" lengthAdjust="spacingAndGlyphs" transform="rotate(-90 376.90 351.30)" >22</text>
<line x1="383.80" y1="345.10" x2="383.80" y2="348.30" stroke="#111" stroke-width="1"/>
<text x="386.90" y="351.30" font-size="8.6" text-anchor="end" textLength="8.60" lengthAdjust="spacingAndGlyphs" transform="rotate(-90 386.90 351.30)" >34</text>
<line x1="394.00" y1="345.10" x2="394.00" y2="348.30" stroke="#111" stroke-width="1"/>
<text x="397.10" y="351.30" font-size="8.6" text-anchor="end" textLength="8.60" lengthAdjust="spacingAndGlyphs" transform="rotate(-90 397.10 351.30)" >40</text>
<line x1="404.00" y1="345.10" x2="404.00" y2="348.30" stroke="#111" stroke-width="1"/>
<text x="407.10" y="351.30" font-size="8.6" text-anchor="end" textLength="8.60" lengthAdjust="spacingAndGlyphs" transform="rotate(-90 407.10 351.30)" >46</text>
<line x1="414.00" y1="345.10" x2="414.00" y2="348.30" stroke="#111" stroke-width="1"/>
<text x="417.10" y="351.30" font-size="8.6" text-anchor="end" textLength="8.60" lengthAdjust="spacingAndGlyphs" transform="rotate(-90 417.10 351.30)" >52</text>
<line x1="427.40" y1="345.10" x2="427.40" y2="348.30" stroke="#111" stroke-width="1"/>
<text x="430.50" y="351.30" font-size="8.6" text-anchor="end" textLength="8.60" lengthAdjust="spacingAndGlyphs" transform="rotate(-90 430.50 351.30)" >10</text>
<line x1="437.40" y1="345.10" x2="437.40" y2="348.30" stroke="#111" stroke-width="1"/>
<text x="440.50" y="351.30" font-size="8.6" text-anchor="end" textLength="8.60" lengthAdjust="spacingAndGlyphs" transform="rotate(-90 440.50 351.30)" >22</text>
<line x1="447.40" y1="345.10" x2="447.40" y2="348.30" stroke="#111" stroke-width="1"/>
<text x="450.50" y="351.30" font-size="8.6" text-anchor="end" textLength="8.60" lengthAdjust="spacingAndGlyphs" transform="rotate(-90 450.50 351.30)" >34</text>
<line x1="457.50" y1="345.10" x2="457.50" y2="348.30" stroke="#111" stroke-width="1"/>
<text x="460.60" y="351.30" font-size="8.6" text-anchor="end" textLength="8.60" lengthAdjust="spacingAndGlyphs" transform="rotate(-90 460.60 351.30)" >40</text>
<line x1="467.50" y1="345.10" x2="467.50" y2="348.30" stroke="#111" stroke-width="1"/>
<text x="470.60" y="351.30" font-size="8.6" text-anchor="end" textLength="8.60" lengthAdjust="spacingAndGlyphs" transform="rotate(-90 470.60 351.30)" >46</text>
<line x1="477.60" y1="345.10" x2="477.60" y2="348.30" stroke="#111" stroke-width="1"/>
<text x="480.70" y="351.30" font-size="8.6" text-anchor="end" textLength="8.60" lengthAdjust="spacingAndGlyphs" transform="rotate(-90 480.70 351.30)" >52</text>
<line x1="420.60" y1="249.50" x2="420.60" y2="345.10" stroke="#8a8a8a" stroke-width="1.0"/>
<text x="363.00" y="253.60" font-size="8.2" textLength="51.40" lengthAdjust="spacingAndGlyphs" >Biotin-labeled</text>
<text x="433.70" y="253.60" font-size="8.2" textLength="37.60" lengthAdjust="spacingAndGlyphs" >Unlabeled</text>
<line x1="362.50" y1="270.40" x2="415.40" y2="270.40" stroke="#333" stroke-width="1.2"/>
<line x1="362.50" y1="268.20" x2="362.50" y2="272.60" stroke="#333" stroke-width="1.2"/>
<line x1="415.40" y1="268.20" x2="415.40" y2="272.60" stroke="#333" stroke-width="1.2"/>
<text x="371.00" y="267.70" font-size="8.2" textLength="35.20" lengthAdjust="spacingAndGlyphs" ><tspan font-style="italic">P</tspan> &lt; .0001</text>
<line x1="426.50" y1="294.30" x2="478.80" y2="294.30" stroke="#333" stroke-width="1.2"/>
<line x1="426.50" y1="292.10" x2="426.50" y2="296.50" stroke="#333" stroke-width="1.2"/>
<line x1="478.80" y1="292.10" x2="478.80" y2="296.50" stroke="#333" stroke-width="1.2"/>
<text x="435.00" y="289.70" font-size="8.2" textLength="35.30" lengthAdjust="spacingAndGlyphs" ><tspan font-style="italic">P</tspan> &lt; .0001</text>
<path d="M414.4,330.6 L414.4,333.8 L427,333.8 L427,330.6" fill="none" stroke="#333" stroke-width="1.1"/>
<text x="403.50" y="341.50" font-size="8.2" textLength="38.50" lengthAdjust="spacingAndGlyphs" ><tspan font-style="italic">P</tspan> &lt; .00001</text>
<line x1="414.00" y1="285.00" x2="414.00" y2="300.50" stroke="#a31f2d" stroke-width="1"/>
<line x1="411.80" y1="285.00" x2="416.20" y2="285.00" stroke="#a31f2d" stroke-width="1"/>
<line x1="411.80" y1="300.50" x2="416.20" y2="300.50" stroke="#a31f2d" stroke-width="1"/>
<polyline points="363.80,306.00 373.80,306.00 383.80,295.00 394.00,293.30 404.00,291.60 414.00,276.70" fill="none" stroke="#263f6c" stroke-width="1" stroke-dasharray="2,1"/>
<rect x="361.10" y="303.30" width="5.4" height="5.4" fill="#6787bf" stroke="#263f6c" stroke-width="1"/>
<rect x="371.10" y="303.30" width="5.4" height="5.4" fill="#6787bf" stroke="#263f6c" stroke-width="1"/>
<rect x="381.10" y="292.30" width="5.4" height="5.4" fill="#6787bf" stroke="#263f6c" stroke-width="1"/>
<rect x="391.30" y="290.60" width="5.4" height="5.4" fill="#6787bf" stroke="#263f6c" stroke-width="1"/>
<rect x="401.30" y="288.90" width="5.4" height="5.4" fill="#6787bf" stroke="#263f6c" stroke-width="1"/>
<rect x="411.30" y="274.00" width="5.4" height="5.4" fill="#6787bf" stroke="#263f6c" stroke-width="1"/>
<polyline points="363.80,319.20 373.80,323.00 383.80,311.00 394.00,309.20 404.00,306.60 414.00,290.20" fill="none" stroke="#a31f2d" stroke-width="1"/>
<rect x="361.10" y="316.50" width="5.4" height="5.4" fill="#dc3d4b" stroke="#a31f2d" stroke-width="1"/>
<rect x="371.10" y="320.30" width="5.4" height="5.4" fill="#dc3d4b" stroke="#a31f2d" stroke-width="1"/>
<rect x="381.10" y="308.30" width="5.4" height="5.4" fill="#dc3d4b" stroke="#a31f2d" stroke-width="1"/>
<rect x="391.30" y="306.50" width="5.4" height="5.4" fill="#dc3d4b" stroke="#a31f2d" stroke-width="1"/>
<rect x="401.30" y="303.90" width="5.4" height="5.4" fill="#dc3d4b" stroke="#a31f2d" stroke-width="1"/>
<rect x="411.30" y="287.50" width="5.4" height="5.4" fill="#dc3d4b" stroke="#a31f2d" stroke-width="1"/>
<polyline points="427.40,313.00 437.40,310.90 447.40,307.30 457.50,307.30 467.50,306.60 477.60,306.60" fill="none" stroke="#263f6c" stroke-width="1" stroke-dasharray="2,1"/>
<rect x="424.70" y="310.30" width="5.4" height="5.4" fill="#6787bf" stroke="#263f6c" stroke-width="1"/>
<rect x="434.70" y="308.20" width="5.4" height="5.4" fill="#6787bf" stroke="#263f6c" stroke-width="1"/>
<rect x="444.70" y="304.60" width="5.4" height="5.4" fill="#6787bf" stroke="#263f6c" stroke-width="1"/>
<rect x="454.80" y="304.60" width="5.4" height="5.4" fill="#6787bf" stroke="#263f6c" stroke-width="1"/>
<rect x="464.80" y="303.90" width="5.4" height="5.4" fill="#6787bf" stroke="#263f6c" stroke-width="1"/>
<rect x="474.90" y="303.90" width="5.4" height="5.4" fill="#6787bf" stroke="#263f6c" stroke-width="1"/>
<polyline points="427.40,324.20 437.40,325.00 447.40,325.00 457.50,322.00 467.50,322.90 477.60,324.20" fill="none" stroke="#a31f2d" stroke-width="1"/>
<rect x="424.70" y="321.50" width="5.4" height="5.4" fill="#dc3d4b" stroke="#a31f2d" stroke-width="1"/>
<rect x="434.70" y="322.30" width="5.4" height="5.4" fill="#dc3d4b" stroke="#a31f2d" stroke-width="1"/>
<rect x="444.70" y="322.30" width="5.4" height="5.4" fill="#dc3d4b" stroke="#a31f2d" stroke-width="1"/>
<rect x="454.80" y="319.30" width="5.4" height="5.4" fill="#dc3d4b" stroke="#a31f2d" stroke-width="1"/>
<rect x="464.80" y="320.20" width="5.4" height="5.4" fill="#dc3d4b" stroke="#a31f2d" stroke-width="1"/>
<rect x="474.90" y="321.50" width="5.4" height="5.4" fill="#dc3d4b" stroke="#a31f2d" stroke-width="1"/>
<text x="394.60" y="372.00" font-size="9.8" textLength="53.40" lengthAdjust="spacingAndGlyphs" >d.p. NHS-biotin</text>
<text x="7.00" y="400.50" font-size="12.3" font-weight="bold" fill="#111" style="stroke:#111;stroke-width:0.35px">G</text>
<line x1="36.40" y1="419.50" x2="36.40" y2="519.20" stroke="#111" stroke-width="1.2"/>
<line x1="36.40" y1="519.20" x2="133.50" y2="519.20" stroke="#111" stroke-width="1.2"/>
<line x1="32.90" y1="519.20" x2="36.40" y2="519.20" stroke="#111" stroke-width="1"/>
<text x="30.30" y="522.00" font-size="8.5" text-anchor="end" >0</text>
<line x1="34.40" y1="506.88" x2="36.40" y2="506.88" stroke="#111" stroke-width="0.7"/>
<line x1="32.90" y1="494.55" x2="36.40" y2="494.55" stroke="#111" stroke-width="1"/>
<text x="30.30" y="497.35" font-size="8.5" text-anchor="end" >20</text>
<line x1="34.40" y1="482.23" x2="36.40" y2="482.23" stroke="#111" stroke-width="0.7"/>
<line x1="32.90" y1="469.90" x2="36.40" y2="469.90" stroke="#111" stroke-width="1"/>
<text x="30.30" y="472.70" font-size="8.5" text-anchor="end" >40</text>
<line x1="34.40" y1="457.58" x2="36.40" y2="457.58" stroke="#111" stroke-width="0.7"/>
<line x1="32.90" y1="445.25" x2="36.40" y2="445.25" stroke="#111" stroke-width="1"/>
<text x="30.30" y="448.05" font-size="8.5" text-anchor="end" >60</text>
<line x1="34.40" y1="432.93" x2="36.40" y2="432.93" stroke="#111" stroke-width="0.7"/>
<line x1="32.90" y1="420.60" x2="36.40" y2="420.60" stroke="#111" stroke-width="1"/>
<text x="30.30" y="423.40" font-size="8.5" text-anchor="end" >80</text>
<text x="15.00" y="468.00" font-size="9.4" text-anchor="middle" textLength="78.00" lengthAdjust="spacingAndGlyphs" transform="rotate(-90 15.00 468.00)" >Biotin-labeled RBC (%)</text>
<line x1="46.50" y1="519.20" x2="46.50" y2="522.50" stroke="#111" stroke-width="1"/>
<text x="49.60" y="525.60" font-size="8.6" text-anchor="end" textLength="8.60" lengthAdjust="spacingAndGlyphs" transform="rotate(-90 49.60 525.60)" >10</text>
<line x1="70.04" y1="519.20" x2="70.04" y2="522.50" stroke="#111" stroke-width="1"/>
<text x="73.14" y="525.60" font-size="8.6" text-anchor="end" textLength="8.60" lengthAdjust="spacingAndGlyphs" transform="rotate(-90 73.14 525.60)" >22</text>
<line x1="93.59" y1="519.20" x2="93.59" y2="522.50" stroke="#111" stroke-width="1"/>
<text x="96.69" y="525.60" font-size="8.6" text-anchor="end" textLength="8.60" lengthAdjust="spacingAndGlyphs" transform="rotate(-90 96.69 525.60)" >34</text>
<line x1="105.36" y1="519.20" x2="105.36" y2="522.50" stroke="#111" stroke-width="1"/>
<text x="108.46" y="525.60" font-size="8.6" text-anchor="end" textLength="8.60" lengthAdjust="spacingAndGlyphs" transform="rotate(-90 108.46 525.60)" >40</text>
<line x1="117.13" y1="519.20" x2="117.13" y2="522.50" stroke="#111" stroke-width="1"/>
<text x="120.23" y="525.60" font-size="8.6" text-anchor="end" textLength="8.60" lengthAdjust="spacingAndGlyphs" transform="rotate(-90 120.23 525.60)" >46</text>
<line x1="128.90" y1="519.20" x2="128.90" y2="522.50" stroke="#111" stroke-width="1"/>
<text x="132.00" y="525.60" font-size="8.6" text-anchor="end" textLength="8.60" lengthAdjust="spacingAndGlyphs" transform="rotate(-90 132.00 525.60)" >52</text>
<text x="57.90" y="545.50" font-size="9.8" textLength="53.80" lengthAdjust="spacingAndGlyphs" >d.p. NHS-biotin</text>
<path d="M47.90,438.60 C49.22,440.77 53.28,447.28 55.80,451.60 C58.32,455.92 60.83,460.43 63.00,464.50 C65.17,468.57 66.40,471.80 68.80,476.00 C71.20,480.20 73.80,485.37 77.40,489.70 C81.00,494.03 86.80,499.23 90.40,502.00 C94.00,504.77 95.73,504.80 99.00,506.30 C102.27,507.80 106.50,509.72 110.00,511.00 C113.50,512.28 116.83,513.25 120.00,514.00 C123.17,514.75 127.50,515.25 129.00,515.50" fill="none" stroke="#2f5f8a" stroke-width="1.2" stroke-dasharray="2.2,1.6"/>
<path d="M46.50,439.40 C47.82,441.92 51.88,449.35 54.40,454.50 C56.92,459.65 59.08,465.38 61.60,470.30 C64.12,475.22 66.15,479.45 69.50,484.00 C72.85,488.55 77.62,493.65 81.70,497.60 C85.78,501.55 90.05,505.22 94.00,507.70 C97.95,510.18 101.57,511.20 105.40,512.50 C109.23,513.80 113.07,514.70 117.00,515.50 C120.93,516.30 127.00,517.00 129.00,517.30" fill="none" stroke="#bd2b3a" stroke-width="1.2"/>
<line x1="46.50" y1="433.54" x2="46.50" y2="442.79" stroke="#bd2b3a" stroke-width="1"/>
<line x1="44.30" y1="433.54" x2="48.70" y2="433.54" stroke="#bd2b3a" stroke-width="1"/>
<line x1="44.30" y1="442.79" x2="48.70" y2="442.79" stroke="#bd2b3a" stroke-width="1"/>
<line x1="70.04" y1="466.82" x2="70.04" y2="475.45" stroke="#2a4474" stroke-width="1"/>
<line x1="67.84" y1="466.82" x2="72.24" y2="466.82" stroke="#2a4474" stroke-width="1"/>
<line x1="67.84" y1="475.45" x2="72.24" y2="475.45" stroke="#2a4474" stroke-width="1"/>
<circle cx="46.50" cy="438.47" r="3.2" fill="#f28a8e" stroke="#bd2b3a" stroke-width="1"/>
<circle cx="70.04" cy="483.46" r="3.2" fill="#f28a8e" stroke="#bd2b3a" stroke-width="1"/>
<circle cx="93.59" cy="507.12" r="3.2" fill="#f28a8e" stroke="#bd2b3a" stroke-width="1"/>
<circle cx="105.36" cy="514.39" r="3.2" fill="#f28a8e" stroke="#bd2b3a" stroke-width="1"/>
<circle cx="117.13" cy="516.86" r="3.2" fill="#f28a8e" stroke="#bd2b3a" stroke-width="1"/>
<circle cx="128.90" cy="518.83" r="3.2" fill="#f28a8e" stroke="#bd2b3a" stroke-width="1"/>
<circle cx="46.50" cy="429.23" r="3.2" fill="#7896c8" stroke="#2a4474" stroke-width="1"/>
<circle cx="70.04" cy="471.38" r="3.2" fill="#7896c8" stroke="#2a4474" stroke-width="1"/>
<circle cx="93.59" cy="503.42" r="3.2" fill="#7896c8" stroke="#2a4474" stroke-width="1"/>
<circle cx="105.36" cy="512.30" r="3.2" fill="#7896c8" stroke="#2a4474" stroke-width="1"/>
<circle cx="117.13" cy="516.49" r="3.2" fill="#7896c8" stroke="#2a4474" stroke-width="1"/>
<circle cx="128.90" cy="518.71" r="3.2" fill="#7896c8" stroke="#2a4474" stroke-width="1"/>
<line x1="80.50" y1="426.10" x2="94.00" y2="426.10" stroke="#bd2b3a" stroke-width="1"/>
<circle cx="87.20" cy="426.10" r="3.2" fill="#f28a8e" stroke="#bd2b3a" stroke-width="1"/>
<line x1="80.50" y1="438.20" x2="94.00" y2="438.20" stroke="#2a4474" stroke-width="1" stroke-dasharray="1.5,1"/>
<circle cx="87.20" cy="438.20" r="3.2" fill="#7896c8" stroke="#2a4474" stroke-width="1"/>
<text x="96.60" y="428.80" font-size="9.2" ><tspan font-style="italic">Mpl</tspan><tspan font-size="6.2" dy="-3.2">−/−</tspan></text>
<text x="96.60" y="441.20" font-size="9.2" ><tspan font-style="italic">Mpl</tspan><tspan font-size="6.2" dy="-3.2">+/+</tspan></text>
<text x="154.20" y="400.80" font-size="12.3" font-weight="bold" fill="#111" style="stroke:#111;stroke-width:0.35px">H</text>
<line x1="185.40" y1="422.00" x2="185.40" y2="519.30" stroke="#111" stroke-width="1.2"/>
<line x1="185.40" y1="519.30" x2="248.70" y2="519.30" stroke="#111" stroke-width="1.2"/>
<line x1="181.90" y1="519.30" x2="185.40" y2="519.30" stroke="#111" stroke-width="1"/>
<text x="179.80" y="522.10" font-size="8.5" text-anchor="end" >0.0</text>
<line x1="183.40" y1="512.88" x2="185.40" y2="512.88" stroke="#111" stroke-width="0.7"/>
<line x1="183.40" y1="506.46" x2="185.40" y2="506.46" stroke="#111" stroke-width="0.7"/>
<line x1="183.40" y1="500.04" x2="185.40" y2="500.04" stroke="#111" stroke-width="0.7"/>
<line x1="183.40" y1="493.62" x2="185.40" y2="493.62" stroke="#111" stroke-width="0.7"/>
<line x1="181.90" y1="487.20" x2="185.40" y2="487.20" stroke="#111" stroke-width="1"/>
<text x="179.80" y="490.00" font-size="8.5" text-anchor="end" >0.1</text>
<line x1="183.40" y1="480.78" x2="185.40" y2="480.78" stroke="#111" stroke-width="0.7"/>
<line x1="183.40" y1="474.36" x2="185.40" y2="474.36" stroke="#111" stroke-width="0.7"/>
<line x1="183.40" y1="467.94" x2="185.40" y2="467.94" stroke="#111" stroke-width="0.7"/>
<line x1="183.40" y1="461.52" x2="185.40" y2="461.52" stroke="#111" stroke-width="0.7"/>
<line x1="181.90" y1="455.10" x2="185.40" y2="455.10" stroke="#111" stroke-width="1"/>
<text x="179.80" y="457.90" font-size="8.5" text-anchor="end" >0.2</text>
<line x1="183.40" y1="448.68" x2="185.40" y2="448.68" stroke="#111" stroke-width="0.7"/>
<line x1="183.40" y1="442.26" x2="185.40" y2="442.26" stroke="#111" stroke-width="0.7"/>
<line x1="183.40" y1="435.84" x2="185.40" y2="435.84" stroke="#111" stroke-width="0.7"/>
<line x1="183.40" y1="429.42" x2="185.40" y2="429.42" stroke="#111" stroke-width="0.7"/>
<line x1="181.90" y1="423.00" x2="185.40" y2="423.00" stroke="#111" stroke-width="1"/>
<text x="179.80" y="425.80" font-size="8.5" text-anchor="end" >0.3</text>
<text x="163.00" y="467.60" font-size="9.4" text-anchor="middle" textLength="74.00" lengthAdjust="spacingAndGlyphs" transform="rotate(-90 163.00 467.60)" >P-RBC complexes (%)</text>
<text x="197.90" y="421.50" font-size="8.2" textLength="34.60" lengthAdjust="spacingAndGlyphs" ><tspan font-style="italic">P</tspan> = .0141</text>
<path d="M203.70,428.30 L203.70,424.40 L231.50,424.40 L231.50,428.30" fill="none" stroke="#333" stroke-width="1.1"/>
<line x1="203.80" y1="519.30" x2="203.80" y2="522.50" stroke="#111" stroke-width="1"/>
<line x1="231.70" y1="519.30" x2="231.70" y2="522.50" stroke="#111" stroke-width="1"/>
<text x="189.70" y="532.60" font-size="8.2" textLength="28.10" lengthAdjust="spacingAndGlyphs" >Healthy</text>
<text x="225.70" y="532.60" font-size="8.2" textLength="11.30" lengthAdjust="spacingAndGlyphs" >ITP</text>
<rect x="201.05" y="436.25" width="5.5" height="5.5" fill="#7896c8" stroke="#2a4474" stroke-width="1.1"/>
<rect x="201.05" y="455.25" width="5.5" height="5.5" fill="#7896c8" stroke="#2a4474" stroke-width="1.1"/>
<rect x="201.05" y="465.15" width="5.5" height="5.5" fill="#7896c8" stroke="#2a4474" stroke-width="1.1"/>
<rect x="194.75" y="472.25" width="5.5" height="5.5" fill="#7896c8" stroke="#2a4474" stroke-width="1.1"/>
<rect x="201.05" y="475.05" width="5.5" height="5.5" fill="#7896c8" stroke="#2a4474" stroke-width="1.1"/>
<rect x="207.65" y="475.05" width="5.5" height="5.5" fill="#7896c8" stroke="#2a4474" stroke-width="1.1"/>
<rect x="194.75" y="489.75" width="5.5" height="5.5" fill="#7896c8" stroke="#2a4474" stroke-width="1.1"/>
<rect x="201.35" y="486.25" width="5.5" height="5.5" fill="#7896c8" stroke="#2a4474" stroke-width="1.1"/>
<rect x="207.65" y="486.75" width="5.5" height="5.5" fill="#7896c8" stroke="#2a4474" stroke-width="1.1"/>
<rect x="228.95" y="458.85" width="5.5" height="5.5" fill="#f28a8e" stroke="#bd2b3a" stroke-width="1.1"/>
<rect x="222.65" y="480.95" width="5.5" height="5.5" fill="#f28a8e" stroke="#bd2b3a" stroke-width="1.1"/>
<rect x="234.85" y="485.45" width="5.5" height="5.5" fill="#f28a8e" stroke="#bd2b3a" stroke-width="1.1"/>
<rect x="228.95" y="488.55" width="5.5" height="5.5" fill="#f28a8e" stroke="#bd2b3a" stroke-width="1.1"/>
<rect x="222.65" y="497.55" width="5.5" height="5.5" fill="#f28a8e" stroke="#bd2b3a" stroke-width="1.1"/>
<rect x="234.85" y="501.65" width="5.5" height="5.5" fill="#f28a8e" stroke="#bd2b3a" stroke-width="1.1"/>
<rect x="228.95" y="506.45" width="5.5" height="5.5" fill="#f28a8e" stroke="#bd2b3a" stroke-width="1.1"/>
<rect x="234.85" y="507.75" width="5.5" height="5.5" fill="#f28a8e" stroke="#bd2b3a" stroke-width="1.1"/>
<rect x="222.65" y="510.05" width="5.5" height="5.5" fill="#f28a8e" stroke="#bd2b3a" stroke-width="1.1"/>
<line x1="193.00" y1="473.80" x2="215.00" y2="473.80" stroke="#222" stroke-width="1.4"/>
<line x1="220.30" y1="496.10" x2="243.00" y2="496.10" stroke="#222" stroke-width="1.4"/>
<text x="268.30" y="400.50" font-size="12.3" font-weight="bold" fill="#111" style="stroke:#111;stroke-width:0.35px">I</text>
<line x1="305.30" y1="421.50" x2="305.30" y2="519.10" stroke="#111" stroke-width="1.2"/>
<line x1="305.30" y1="519.10" x2="370.60" y2="519.10" stroke="#111" stroke-width="1.2"/>
<line x1="301.80" y1="519.10" x2="305.30" y2="519.10" stroke="#111" stroke-width="1"/>
<text x="298.80" y="521.90" font-size="8.5" text-anchor="end" >0.00</text>
<line x1="303.30" y1="515.24" x2="305.30" y2="515.24" stroke="#111" stroke-width="0.7"/>
<line x1="303.30" y1="511.39" x2="305.30" y2="511.39" stroke="#111" stroke-width="0.7"/>
<line x1="303.30" y1="507.53" x2="305.30" y2="507.53" stroke="#111" stroke-width="0.7"/>
<line x1="303.30" y1="503.68" x2="305.30" y2="503.68" stroke="#111" stroke-width="0.7"/>
<line x1="301.80" y1="499.82" x2="305.30" y2="499.82" stroke="#111" stroke-width="1"/>
<text x="298.80" y="502.62" font-size="8.5" text-anchor="end" >0.05</text>
<line x1="303.30" y1="495.96" x2="305.30" y2="495.96" stroke="#111" stroke-width="0.7"/>
<line x1="303.30" y1="492.11" x2="305.30" y2="492.11" stroke="#111" stroke-width="0.7"/>
<line x1="303.30" y1="488.25" x2="305.30" y2="488.25" stroke="#111" stroke-width="0.7"/>
<line x1="303.30" y1="484.40" x2="305.30" y2="484.40" stroke="#111" stroke-width="0.7"/>
<line x1="301.80" y1="480.54" x2="305.30" y2="480.54" stroke="#111" stroke-width="1"/>
<text x="298.80" y="483.34" font-size="8.5" text-anchor="end" >0.10</text>
<line x1="303.30" y1="476.68" x2="305.30" y2="476.68" stroke="#111" stroke-width="0.7"/>
<line x1="303.30" y1="472.83" x2="305.30" y2="472.83" stroke="#111" stroke-width="0.7"/>
<line x1="303.30" y1="468.97" x2="305.30" y2="468.97" stroke="#111" stroke-width="0.7"/>
<line x1="303.30" y1="465.12" x2="305.30" y2="465.12" stroke="#111" stroke-width="0.7"/>
<line x1="301.80" y1="461.26" x2="305.30" y2="461.26" stroke="#111" stroke-width="1"/>
<text x="298.80" y="464.06" font-size="8.5" text-anchor="end" >0.15</text>
<line x1="303.30" y1="457.40" x2="305.30" y2="457.40" stroke="#111" stroke-width="0.7"/>
<line x1="303.30" y1="453.55" x2="305.30" y2="453.55" stroke="#111" stroke-width="0.7"/>
<line x1="303.30" y1="449.69" x2="305.30" y2="449.69" stroke="#111" stroke-width="0.7"/>
<line x1="303.30" y1="445.84" x2="305.30" y2="445.84" stroke="#111" stroke-width="0.7"/>
<line x1="301.80" y1="441.98" x2="305.30" y2="441.98" stroke="#111" stroke-width="1"/>
<text x="298.80" y="444.78" font-size="8.5" text-anchor="end" >0.20</text>
<line x1="303.30" y1="438.12" x2="305.30" y2="438.12" stroke="#111" stroke-width="0.7"/>
<line x1="303.30" y1="434.27" x2="305.30" y2="434.27" stroke="#111" stroke-width="0.7"/>
<line x1="303.30" y1="430.41" x2="305.30" y2="430.41" stroke="#111" stroke-width="0.7"/>
<line x1="303.30" y1="426.56" x2="305.30" y2="426.56" stroke="#111" stroke-width="0.7"/>
<line x1="301.80" y1="422.70" x2="305.30" y2="422.70" stroke="#111" stroke-width="1"/>
<text x="298.80" y="425.50" font-size="8.5" text-anchor="end" >0.25</text>
<text x="277.40" y="467.00" font-size="9.4" text-anchor="middle" textLength="87.00" lengthAdjust="spacingAndGlyphs" transform="rotate(-90 277.40 467.00)" >Annexin-labelled RBC (%)</text>
<text x="320.20" y="413.30" font-size="8.2" textLength="35.30" lengthAdjust="spacingAndGlyphs" ><tspan font-style="italic">P</tspan> = .0552</text>
<path d="M323.20,421.40 L323.20,417.60 L350.90,417.60 L350.90,421.40" fill="none" stroke="#333" stroke-width="1.1"/>
<line x1="323.20" y1="519.10" x2="323.20" y2="522.30" stroke="#111" stroke-width="1"/>
<line x1="351.00" y1="519.10" x2="351.00" y2="522.30" stroke="#111" stroke-width="1"/>
<text x="310.00" y="532.20" font-size="8.2" textLength="27.30" lengthAdjust="spacingAndGlyphs" >Healthy</text>
<text x="345.40" y="532.20" font-size="8.2" textLength="11.30" lengthAdjust="spacingAndGlyphs" >ITP</text>
<circle cx="323.20" cy="469.30" r="2.75" fill="#7896c8" stroke="#2a4474" stroke-width="1.1"/>
<circle cx="323.20" cy="476.80" r="2.75" fill="#7896c8" stroke="#2a4474" stroke-width="1.1"/>
<circle cx="323.20" cy="484.40" r="2.75" fill="#7896c8" stroke="#2a4474" stroke-width="1.1"/>
<circle cx="323.20" cy="493.70" r="2.75" fill="#7896c8" stroke="#2a4474" stroke-width="1.1"/>
<circle cx="317.20" cy="500.80" r="2.75" fill="#7896c8" stroke="#2a4474" stroke-width="1.1"/>
<circle cx="329.80" cy="505.30" r="2.75" fill="#7896c8" stroke="#2a4474" stroke-width="1.1"/>
<circle cx="317.20" cy="512.60" r="2.75" fill="#7896c8" stroke="#2a4474" stroke-width="1.1"/>
<circle cx="323.20" cy="510.80" r="2.75" fill="#7896c8" stroke="#2a4474" stroke-width="1.1"/>
<circle cx="329.80" cy="511.60" r="2.75" fill="#7896c8" stroke="#2a4474" stroke-width="1.1"/>
<circle cx="350.90" cy="434.80" r="2.75" fill="#f28a8e" stroke="#bd2b3a" stroke-width="1.1"/>
<circle cx="350.90" cy="442.30" r="2.75" fill="#f28a8e" stroke="#bd2b3a" stroke-width="1.1"/>
<circle cx="344.10" cy="458.00" r="2.75" fill="#f28a8e" stroke="#bd2b3a" stroke-width="1.1"/>
<circle cx="357.50" cy="461.70" r="2.75" fill="#f28a8e" stroke="#bd2b3a" stroke-width="1.1"/>
<circle cx="344.10" cy="482.60" r="2.75" fill="#f28a8e" stroke="#bd2b3a" stroke-width="1.1"/>
<circle cx="357.50" cy="485.60" r="2.75" fill="#f28a8e" stroke="#bd2b3a" stroke-width="1.1"/>
<circle cx="350.90" cy="497.70" r="2.75" fill="#f28a8e" stroke="#bd2b3a" stroke-width="1.1"/>
<circle cx="344.10" cy="505.30" r="2.75" fill="#f28a8e" stroke="#bd2b3a" stroke-width="1.1"/>
<circle cx="357.50" cy="505.30" r="2.75" fill="#f28a8e" stroke="#bd2b3a" stroke-width="1.1"/>
<line x1="313.90" y1="496.20" x2="332.80" y2="496.20" stroke="#222" stroke-width="1.4"/>
<line x1="341.60" y1="474.80" x2="360.00" y2="474.80" stroke="#222" stroke-width="1.4"/>
<text x="387.80" y="400.50" font-size="12.3" font-weight="bold" fill="#111" style="stroke:#111;stroke-width:0.35px">J</text>
<line x1="420.00" y1="420.50" x2="420.00" y2="519.50" stroke="#111" stroke-width="1.2"/>
<line x1="420.00" y1="519.50" x2="484.30" y2="519.50" stroke="#111" stroke-width="1.2"/>
<line x1="416.50" y1="519.50" x2="420.00" y2="519.50" stroke="#111" stroke-width="1"/>
<text x="413.80" y="522.30" font-size="8.5" text-anchor="end" >0.0</text>
<line x1="418.00" y1="512.99" x2="420.00" y2="512.99" stroke="#111" stroke-width="0.7"/>
<line x1="418.00" y1="506.49" x2="420.00" y2="506.49" stroke="#111" stroke-width="0.7"/>
<line x1="418.00" y1="499.98" x2="420.00" y2="499.98" stroke="#111" stroke-width="0.7"/>
<line x1="418.00" y1="493.48" x2="420.00" y2="493.48" stroke="#111" stroke-width="0.7"/>
<line x1="416.50" y1="486.97" x2="420.00" y2="486.97" stroke="#111" stroke-width="1"/>
<text x="413.80" y="489.77" font-size="8.5" text-anchor="end" >0.5</text>
<line x1="418.00" y1="480.46" x2="420.00" y2="480.46" stroke="#111" stroke-width="0.7"/>
<line x1="418.00" y1="473.96" x2="420.00" y2="473.96" stroke="#111" stroke-width="0.7"/>
<line x1="418.00" y1="467.45" x2="420.00" y2="467.45" stroke="#111" stroke-width="0.7"/>
<line x1="418.00" y1="460.95" x2="420.00" y2="460.95" stroke="#111" stroke-width="0.7"/>
<line x1="416.50" y1="454.44" x2="420.00" y2="454.44" stroke="#111" stroke-width="1"/>
<text x="413.80" y="457.24" font-size="8.5" text-anchor="end" >1.0</text>
<line x1="418.00" y1="447.93" x2="420.00" y2="447.93" stroke="#111" stroke-width="0.7"/>
<line x1="418.00" y1="441.43" x2="420.00" y2="441.43" stroke="#111" stroke-width="0.7"/>
<line x1="418.00" y1="434.92" x2="420.00" y2="434.92" stroke="#111" stroke-width="0.7"/>
<line x1="418.00" y1="428.42" x2="420.00" y2="428.42" stroke="#111" stroke-width="0.7"/>
<line x1="416.50" y1="421.91" x2="420.00" y2="421.91" stroke="#111" stroke-width="1"/>
<text x="413.80" y="424.71" font-size="8.5" text-anchor="end" >1.5</text>
<text x="396.00" y="469.00" font-size="9.4" text-anchor="middle" textLength="76.00" lengthAdjust="spacingAndGlyphs" transform="rotate(-90 396.00 469.00)" >FasR-labelled RBC (%)</text>
<text x="434.70" y="416.40" font-size="8.2" textLength="35.30" lengthAdjust="spacingAndGlyphs" ><tspan font-style="italic">P</tspan> = .0547</text>
<path d="M437.70,425.70 L437.70,421.40 L465.90,421.40 L465.90,425.70" fill="none" stroke="#333" stroke-width="1.1"/>
<line x1="437.70" y1="519.50" x2="437.70" y2="522.70" stroke="#111" stroke-width="1"/>
<line x1="465.90" y1="519.50" x2="465.90" y2="522.70" stroke="#111" stroke-width="1"/>
<text x="423.90" y="532.20" font-size="8.2" textLength="27.70" lengthAdjust="spacingAndGlyphs" >Healthy</text>
<text x="460.40" y="532.20" font-size="8.2" textLength="11.30" lengthAdjust="spacingAndGlyphs" >ITP</text>
<circle cx="437.70" cy="511.00" r="2.75" fill="#7896c8" stroke="#2a4474" stroke-width="1.1"/>
<circle cx="433.00" cy="513.00" r="2.75" fill="#7896c8" stroke="#2a4474" stroke-width="1.1"/>
<circle cx="442.50" cy="513.00" r="2.75" fill="#7896c8" stroke="#2a4474" stroke-width="1.1"/>
<circle cx="437.70" cy="515.50" r="2.75" fill="#7896c8" stroke="#2a4474" stroke-width="1.1"/>
<circle cx="431.50" cy="516.50" r="2.75" fill="#7896c8" stroke="#2a4474" stroke-width="1.1"/>
<circle cx="444.50" cy="516.50" r="2.75" fill="#7896c8" stroke="#2a4474" stroke-width="1.1"/>
<circle cx="435.00" cy="517.50" r="2.75" fill="#7896c8" stroke="#2a4474" stroke-width="1.1"/>
<circle cx="440.50" cy="517.50" r="2.75" fill="#7896c8" stroke="#2a4474" stroke-width="1.1"/>
<circle cx="437.70" cy="513.50" r="2.75" fill="#7896c8" stroke="#2a4474" stroke-width="1.1"/>
<circle cx="465.90" cy="437.80" r="2.75" fill="#f28a8e" stroke="#bd2b3a" stroke-width="1.1"/>
<circle cx="465.90" cy="444.00" r="2.75" fill="#f28a8e" stroke="#bd2b3a" stroke-width="1.1"/>
<circle cx="465.90" cy="489.40" r="2.75" fill="#f28a8e" stroke="#bd2b3a" stroke-width="1.1"/>
<circle cx="465.90" cy="499.50" r="2.75" fill="#f28a8e" stroke="#bd2b3a" stroke-width="1.1"/>
<circle cx="465.90" cy="505.30" r="2.75" fill="#f28a8e" stroke="#bd2b3a" stroke-width="1.1"/>
<circle cx="472.50" cy="507.80" r="2.75" fill="#f28a8e" stroke="#bd2b3a" stroke-width="1.1"/>
<circle cx="465.90" cy="510.80" r="2.75" fill="#f28a8e" stroke="#bd2b3a" stroke-width="1.1"/>
<circle cx="459.10" cy="514.60" r="2.75" fill="#f28a8e" stroke="#bd2b3a" stroke-width="1.1"/>
<circle cx="472.50" cy="514.60" r="2.75" fill="#f28a8e" stroke="#bd2b3a" stroke-width="1.1"/>
<line x1="427.00" y1="513.90" x2="449.00" y2="513.90" stroke="#222" stroke-width="1.4"/>
<line x1="456.60" y1="492.00" x2="475.00" y2="492.00" stroke="#222" stroke-width="1.4"/>
<rect x="0.5" y="0.5" width="519" height="555" fill="none" stroke="#555" stroke-width="1.2"/>
</svg>
</body></html>
